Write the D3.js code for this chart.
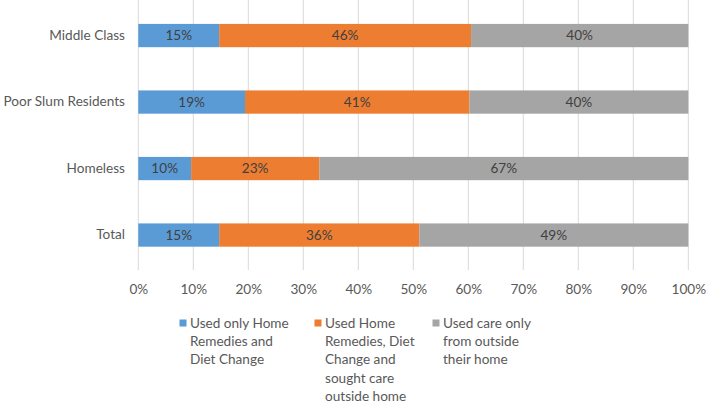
<!DOCTYPE html>
<html><head><meta charset="utf-8">
<script src="https://cdn.jsdelivr.net/npm/d3@7"></script>
<style>body{margin:0;background:#fff;} svg{display:block;}</style>
</head><body>
<svg id="c" width="709" height="404"></svg>
<script>
const categories = ["Middle Class", "Poor Slum Residents", "Homeless", "Total"];
const homeOnly = [14.7, 19.4, 9.6, 14.7];
const homeAndOutside = [45.8, 40.8, 23.3, 36.4];
const outsideOnly = [39.5, 39.8, 67.1, 48.9];
const seriesNames = [
  ["Used only Home", "Remedies and", "Diet Change"],
  ["Used Home", "Remedies, Diet", "Change and", "sought care", "outside home"],
  ["Used care only", "from outside", "their home"]
];
const colors = ["#5b9bd5", "#ed7d31", "#a5a5a5"];
const tickValues = [0, 10, 20, 30, 40, 50, 60, 70, 80, 90, 100];

const font = "Lato, 'Liberation Sans', Arial, sans-serif";
const fs = 13.6;
const svg = d3.select("#c");
const x = d3.scaleLinear().domain([0, 100]).range([138.3, 688.3]);
const y = d3.scaleBand().domain(categories).range([2.3, 268.3]).paddingInner(0.65).paddingOuter(0.325);

// gridlines
svg.append("g").selectAll("line").data(tickValues).join("line")
  .attr("x1", d => x(d)).attr("x2", d => x(d))
  .attr("y1", 0).attr("y2", 270)
  .attr("stroke", "#d9d9d9").attr("stroke-width", 1);

// x axis labels
const xAxis = d3.axisBottom(x).tickValues(tickValues).tickFormat(d => d + "%").tickSize(0).tickPadding(0);
const gx = svg.append("g").attr("transform", "translate(0,289)").call(xAxis);
gx.select(".domain").remove();
gx.selectAll("text").attr("font-family", font).attr("font-size", fs).attr("fill", "#595959").attr("dy", "0.35em");

// y axis labels
const yAxis = d3.axisLeft(y).tickSize(0).tickPadding(0);
const gy = svg.append("g").attr("transform", "translate(125,0)").call(yAxis);
gy.select(".domain").remove();
gy.selectAll("text").attr("font-family", font).attr("font-size", fs).attr("fill", "#595959");

const seriesData = [homeOnly, homeAndOutside, outsideOnly];
const rows = categories.map((c, i) => ({cat: c, v: seriesData.map(s => s[i])}));
const stack = d3.stack().keys([0, 1, 2]).value((d, k) => d.v[k]);
const stacked = stack(rows);

const layers = svg.append("g").selectAll("g").data(stacked).join("g").attr("fill", (d, i) => colors[i]);
layers.selectAll("rect").data(d => d).join("rect")
  .attr("x", d => x(d[0])).attr("width", d => x(d[1]) - x(d[0]))
  .attr("y", d => y(d.data.cat)).attr("height", y.bandwidth());

const labels = svg.append("g").selectAll("g").data(stacked).join("g");
labels.selectAll("text").data((d, i) => d.map(p => ({p, k: i}))).join("text")
  .attr("x", d => (x(d.p[0]) + x(d.p[1])) / 2)
  .attr("y", d => y(d.p.data.cat) + y.bandwidth() / 2)
  .attr("dy", "0.35em").attr("text-anchor", "middle")
  .attr("font-family", font).attr("font-size", fs).attr("fill", "#404040")
  .text(d => Math.round(d.p.data.v[d.k]) + "%");

// legend
const legendX = [179.5, 314.5, 432.5];
const lg = svg.append("g").selectAll("g").data(seriesNames).join("g")
  .attr("transform", (d, i) => `translate(${legendX[i]},318)`);
lg.append("rect").attr("width", 7).attr("height", 7).attr("y", 1.5).attr("fill", (d, i) => colors[i]);
lg.append("text").attr("font-family", font).attr("font-size", fs).attr("fill", "#595959")
  .selectAll("tspan").data(d => d).join("tspan")
  .attr("x", 10.5).attr("y", (d, j) => 5 + j * 18.3).attr("dy", "0.35em").text(d => d);
</script>
</body></html>
